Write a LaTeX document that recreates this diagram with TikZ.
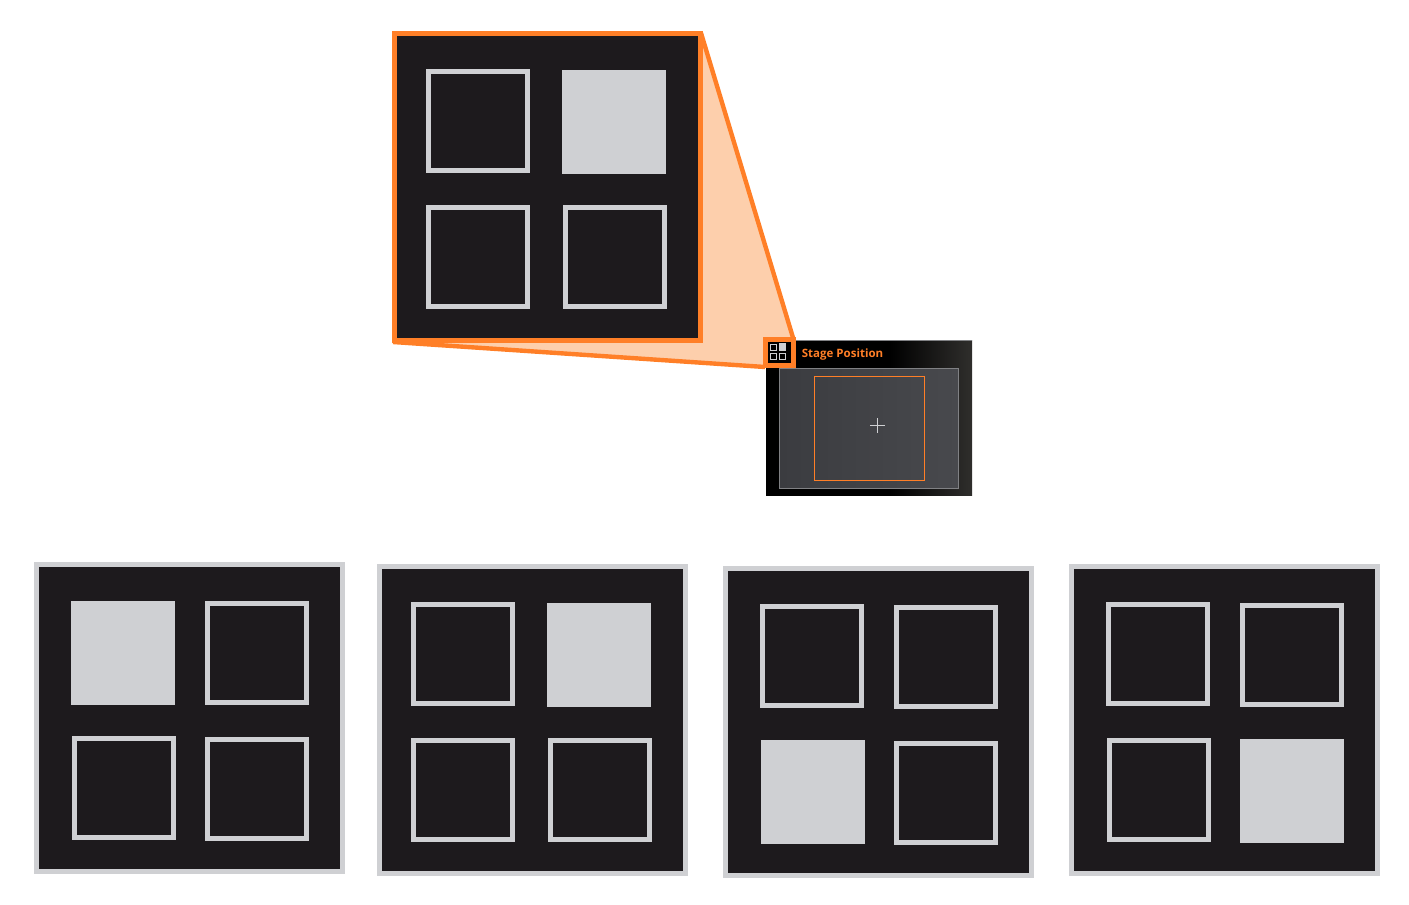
\documentclass[tikz,border=0pt]{standalone}
\usepackage{fontspec}
\setsansfont{Open Sans}
\usepackage{xcolor}
\definecolor{panelcol}{HTML}{1D1A1D}
\definecolor{greycol}{HTML}{CFD0D3}
\definecolor{orangecol}{HTML}{FF7F27}
\definecolor{peachcol}{HTML}{FDCFAC}
\definecolor{endcol}{HTML}{2F2E2C}
\definecolor{stageleft}{HTML}{3B3C40}
\definecolor{stageright}{HTML}{48494D}
\definecolor{edgecol}{HTML}{808184}
\tikzset{
  panelbox/.style={fill=panelcol, draw=greycol, line width=2.5pt},
  openbox/.style={draw=greycol, line width=2.5pt},
  fullbox/.style={fill=greycol},
  tinybox/.style={draw=greycol, line width=0.6pt},
}
% corners are the outer edges in pixels, the strokes sit inside them
\newcommand{\panelat}[3][panelbox]{\draw[#1] (#2+2.5,#3+2.5) rectangle ++(306,307);}
\newcommand{\openat}[2]{\draw[openbox] (#1+2.5,#2+2.5) rectangle ++(99,99);}
\newcommand{\fullat}[2]{\fill[fullbox] (#1,#2) rectangle ++(104,104);}

\begin{document}
\begin{tikzpicture}[x=0.5pt, y=-0.5pt]
    \useasboundingbox (0,0) rectangle (1409,905);

    % wedge from the icon up to the enlarged panel
    \fill[peachcol] (701,33) -- (794,340) -- (765,367) -- (393,342) -- cycle;
    \draw[orangecol, line width=2.2pt] (701,33) -- (794,341);
    \draw[orangecol, line width=2.2pt] (393,342) -- (765,367);

    % enlarged panel
    \panelat[panelbox, draw=orangecol]{392}{31}
    \openat{426}{69}
    \fullat{562}{70}
    \openat{426}{205}
    \openat{563}{205}

    % stage position window
    \fill[black] (766,340) rectangle (972,496);
    \begin{scope}
      \clip (766,340) rectangle (972,495.2);
      \shade[left color=black, right color=endcol] (890,338) rectangle (972,498);
    \end{scope}
    \draw[edgecol, line width=0.4pt] (796,340.5) -- (972,340.5);
    \shade[left color=stageleft, right color=stageright] (779.5,368.5) rectangle (958.5,488.5);
    \draw[edgecol, line width=0.5pt] (779.5,368.5) rectangle (958.5,488.5);
    \draw[orangecol, line width=0.5pt] (814.5,376.5) rectangle (924.5,480.5);
    \draw[greycol, line width=0.5pt] (870,425) -- (885,425);
    \draw[greycol, line width=0.5pt] (877.5,418) -- (877.5,433);
    \node[anchor=west, inner sep=0pt, text=orangecol, font=\sffamily\bfseries\fontsize{5.75}{7}\selectfont] at (801.5,354.5) {Stage Position};

    % icon
    \draw[orangecol, fill=black, line width=2.5pt] (765.5,339.5) rectangle (793.5,365.5);
    \draw[tinybox] (770.5,344.5) rectangle (776.5,350.5);
    \fill[greycol] (779,343) rectangle (786,351);
    \draw[tinybox] (770.5,353.5) rectangle (776.5,359.5);
    \draw[tinybox] (779.5,353.5) rectangle (785.5,359.5);

    % lower row
    \panelat{34}{562}
    \fullat{71}{601}
    \openat{205}{601}
    \openat{72}{736}
    \openat{205}{737}

    \panelat{377}{564}
    \openat{411}{602}
    \fullat{547}{603}
    \openat{411}{738}
    \openat{548}{738}

    \panelat{723}{566}
    \openat{760}{604}
    \openat{894}{605}
    \fullat{761}{740}
    \openat{894}{741}

    \panelat{1069}{564}
    \openat{1106}{602}
    \openat{1240}{603}
    \openat{1107}{738}
    \fullat{1240}{739}
\end{tikzpicture}
\end{document}
